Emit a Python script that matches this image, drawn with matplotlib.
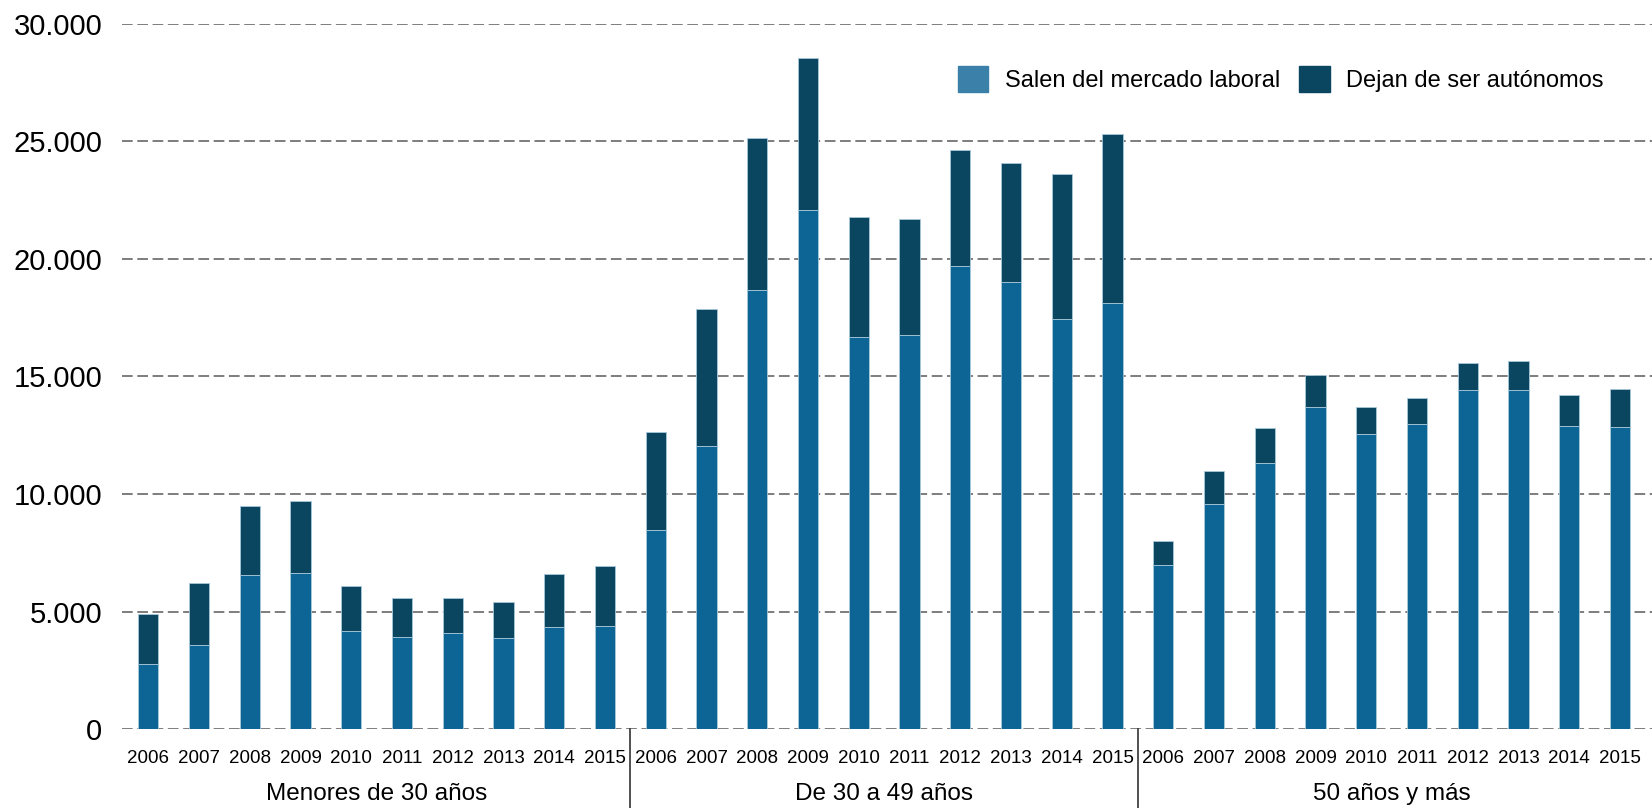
import matplotlib.pyplot as plt
import numpy as np
from matplotlib.patches import Patch

# data
years = ["2006", "2007", "2008", "2009", "2010", "2011", "2012", "2013", "2014", "2015"]
groups = ["Menores de 30 años", "De 30 a 49 años", "50 años y más"]

salen_menores = [2760, 3570, 6560, 6630, 4180, 3910, 4080, 3870, 4340, 4380]
dejan_menores = [2150, 2630, 2940, 3060, 1910, 1670, 1490, 1530, 2260, 2550]

salen_30_49 = [8460, 12030, 18660, 22060, 16670, 16750, 19680, 19000, 17430, 18110]
dejan_30_49 = [4160, 5850, 6460, 6470, 5100, 4950, 4940, 5060, 6160, 7180]

salen_50 = [6980, 9590, 11310, 13690, 12540, 12960, 14420, 14410, 12890, 12850]
dejan_50 = [1020, 1400, 1510, 1380, 1160, 1120, 1150, 1240, 1320, 1610]

yticks = [0, 5000, 10000, 15000, 20000, 25000, 30000]

c_salen = "#0c6594"
c_dejan = "#0b4661"
c_legend_salen = "#3a80a9"
edge = "#a9c9dc"

plt.rcParams["font.family"] = ["Liberation Sans", "DejaVu Sans"]

salen = np.array(salen_menores + salen_30_49 + salen_50)
dejan = np.array(dejan_menores + dejan_30_49 + dejan_50)
x = np.arange(len(salen))

fig = plt.figure(figsize=(16.52, 8.08), dpi=100)
ax = fig.add_axes([0.0738, 0.0974, 0.9262, 0.8735])

# grid
for v in yticks:
    ax.axhline(v, color="#5a5a5a", linewidth=1.1, linestyle=(0, (7, 3)), zorder=1)

ax.bar(x, salen, width=0.4, color=c_salen, edgecolor=edge, linewidth=0.6, zorder=2)
ax.bar(x, dejan, width=0.4, bottom=salen, color=c_dejan, edgecolor=edge,
       linewidth=0.6, zorder=2)

ax.set_xlim(-0.52, len(salen) - 0.37)
ax.set_ylim(0, 30000)

ax.set_yticks(yticks)
ax.set_yticklabels([f"{v:,}".replace(",", ".") for v in yticks], fontsize=21)
ax.set_xticks(x)
ax.set_xticklabels(years * 3, fontsize=13.5)
ax.tick_params(axis="both", length=0)
ax.tick_params(axis="x", pad=15)
ax.tick_params(axis="y", pad=14)
for s in ax.spines.values():
    s.set_visible(False)

# group separators and labels
trans = ax.get_xaxis_transform()
for i in range(1, len(groups)):
    sep = i * len(years) - 0.5
    ax.plot([sep, sep], [0, -0.15], color="#333333", linewidth=1.2,
            transform=trans, clip_on=False)
for i, g in enumerate(groups):
    ax.text(i * len(years) + 4.5, -0.092, g, transform=trans, ha="center",
            va="center", fontsize=17.5)

handles = [Patch(color=c_legend_salen, label="Salen del mercado laboral"),
           Patch(color=c_dejan, label="Dejan de ser autónomos")]
ax.legend(handles=handles, ncol=2, frameon=False, fontsize=17,
          loc="upper left", bbox_to_anchor=(0.54, 0.953),
          handlelength=1.3, handleheight=1.3, handletextpad=0.7,
          columnspacing=0.8, borderaxespad=0)

fig.savefig("out.png", dpi=100)
